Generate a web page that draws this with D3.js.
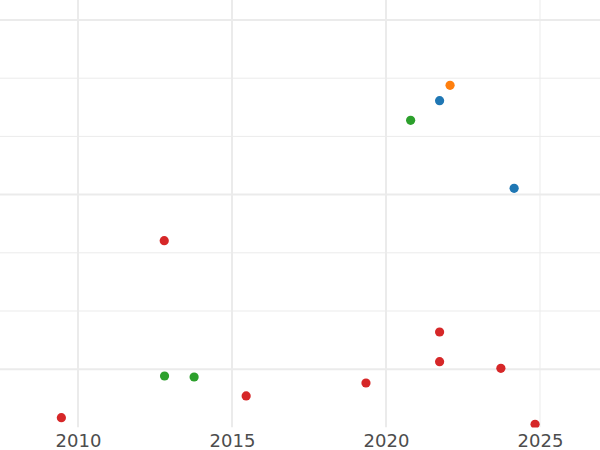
<!DOCTYPE html>
<html>
<head>
<meta charset="utf-8">
<script src="https://cdn.jsdelivr.net/npm/d3@7"></script>
<style>
  html, body { margin: 0; padding: 0; background: #ffffff; }
  svg { display: block; }
</style>
</head>
<body>
<script>
// ---- data ----
const years  = [2022.08, 2021.74, 2024.16, 2020.80, 2012.81, 2013.77, 2012.80, 2015.46, 2009.46, 2019.35, 2021.74, 2021.74, 2023.73, 2024.84];
const values = [5.878, 5.613, 4.108, 5.277, 0.883, 0.866, 3.208, 0.540, 0.167, 0.763, 1.639, 1.129, 1.015, 0.053];
const groups = ["orange", "blue", "blue", "green", "green", "green", "red", "red", "red", "red", "red", "red", "red", "red"];
const groupNames  = ["blue", "orange", "green", "red"];
const groupColors = ["#1f77b4", "#ff7f0e", "#2ca02c", "#d62728"];
const xTicks = [2010, 2015, 2020, 2025];
const xTickLabels = ["2010", "2015", "2020", "2025"];
const yMajor = [1, 4, 7];
const yMinor = [2, 3, 5, 6];

const W = 600, H = 450;
const panelBottom = 427.4;

const x = d3.scaleLinear().domain([2010, 2025]).range([78, 540]);
const y = d3.scaleLinear().domain([0, 7]).range([panelBottom, 20]);
const color = d3.scaleOrdinal().domain(groupNames).range(groupColors);

const svg = d3.select("body").append("svg").attr("width", W).attr("height", H);

svg.append("defs").append("clipPath").attr("id", "panel")
  .append("rect").attr("x", 0).attr("y", 0).attr("width", W).attr("height", panelBottom);

const grid = svg.append("g").attr("clip-path", "url(#panel)");
grid.selectAll("line.ymin").data(yMinor).join("line")
  .attr("x1", 0).attr("x2", W)
  .attr("y1", d => y(d)).attr("y2", d => y(d))
  .attr("stroke", "#ebebeb").attr("stroke-width", 1);
grid.selectAll("line.ymaj").data(yMajor).join("line")
  .attr("x1", 0).attr("x2", W)
  .attr("y1", d => y(d)).attr("y2", d => y(d))
  .attr("stroke", "#ebebeb").attr("stroke-width", 2);
grid.selectAll("line.xg").data(xTicks).join("line")
  .attr("x1", d => x(d)).attr("x2", d => x(d))
  .attr("y1", 0).attr("y2", panelBottom)
  .attr("stroke", "#ebebeb").attr("stroke-width", (d, i) => i === xTicks.length - 1 ? 1 : 2);

const pts = years.map((yr, i) => ({ yr, v: values[i], g: groups[i] }));
svg.append("g").attr("clip-path", "url(#panel)")
  .selectAll("circle").data(pts).join("circle")
  .attr("cx", d => x(d.yr)).attr("cy", d => y(d.v)).attr("r", 4.6)
  .attr("fill", d => color(d.g));

const xAxis = d3.axisBottom(x).tickValues(xTicks).tickFormat((d, i) => xTickLabels[i]).tickSize(0).tickPadding(0);
const ax = svg.append("g").attr("transform", `translate(0, ${panelBottom})`).call(xAxis);
ax.select(".domain").remove();
ax.selectAll("text")
  .attr("dy", null).attr("y", 20)
  .attr("font-family", "DejaVu Sans")
  .attr("font-size", 18)
  .attr("fill", "#4d4d4d");
</script>
</body>
</html>
